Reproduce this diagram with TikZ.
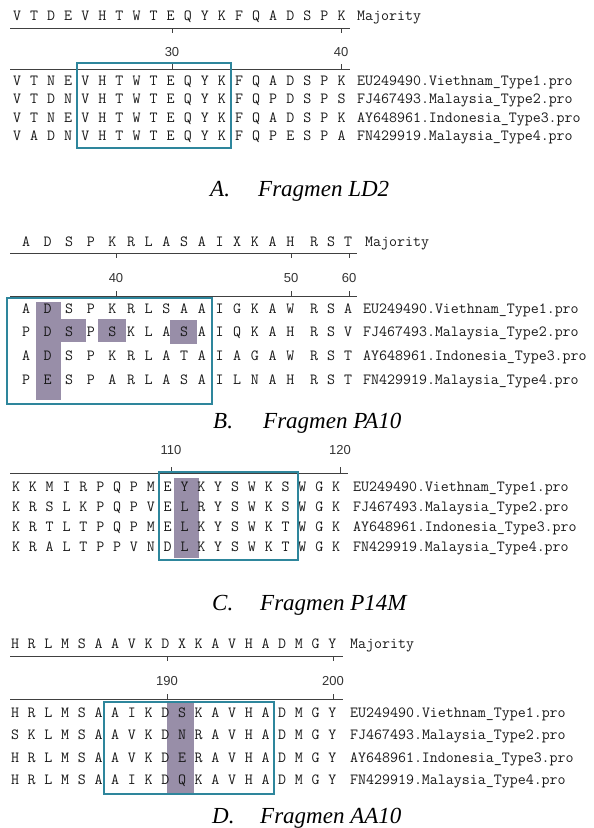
\documentclass[tikz,border=0pt]{standalone}
\usepackage{fontspec}
\newfontfamily\ttlfont{Liberation Serif}
\newfontfamily\numfont{Liberation Sans}

\definecolor{boxteal}{RGB}{46,134,156}
\definecolor{hilite}{RGB}{152,142,168}

\tikzset{
  res/.style={font=\fontsize{15.5}{15.5}\selectfont\ttfamily\addfontfeatures{FakeBold=0.6},
    inner sep=0pt, text height=9pt, text depth=0pt, text=black!90},
  lab/.style={res, anchor=west},
  num/.style={font=\fontsize{13}{13}\selectfont\numfont, inner sep=0pt, text=black!80},
  ruler/.style={line width=1pt, black!75},
  frame/.style={draw=boxteal, line width=2.6pt},
  shade/.style={fill=hilite},
  ttl/.style={font=\fontsize{23}{23}\selectfont\ttlfont\itshape, anchor=base west, inner sep=0pt},
}

% one row of residues: name, first x, step, y, letters
\newcommand\seqrow[5]{%
  \foreach \c [count=\i] in {#5} \node[res] (#1-\i) at ({#2+(\i-1)*#3}, #4) {\c};}

\begin{document}
\begin{tikzpicture}[x=1pt, y=-1pt]
\useasboundingbox (0,0) rectangle (594,828);

% ---- A. Fragmen LD2
\seqrow{am}{17}{17.08}{16}{V,T,D,E,V,H,T,W,T,E,Q,Y,K,F,Q,A,D,S,P,K}
\node[lab] (am-lab) at (357,16) {Majority};
\draw[ruler] (10,28) -- (350,28);
\draw[ruler] (10,69) -- (350,69);
\foreach \x/\n in {172/30, 341/40} {
  \draw[ruler] (\x,28) -- (\x,33);
  \draw[ruler] (\x,69) -- (\x,64);
  \node[num] (a\n) at (\x,52) {\n};
}
\seqrow{a1}{17}{17.08}{81}{V,T,N,E,V,H,T,W,T,E,Q,Y,K,F,Q,A,D,S,P,K}
\seqrow{a2}{17}{17.08}{99}{V,T,D,N,V,H,T,W,T,E,Q,Y,K,F,Q,P,D,S,P,S}
\seqrow{a3}{17}{17.08}{118}{V,T,N,E,V,H,T,W,T,E,Q,Y,K,F,Q,A,D,S,P,K}
\seqrow{a4}{17}{17.08}{136}{V,A,D,N,V,H,T,W,T,E,Q,Y,K,F,Q,P,E,S,P,A}
\node[lab] (a1-lab) at (357,81) {EU249490.Viethnam\_Type1.pro};
\node[lab] (a2-lab) at (357,99) {FJ467493.Malaysia\_Type2.pro};
\node[lab] (a3-lab) at (357,118) {AY648961.Indonesia\_Type3.pro};
\node[lab] (a4-lab) at (357,136) {FN429919.Malaysia\_Type4.pro};
\draw[frame] (77,63) rectangle (231,148);
\node[ttl] (ta-l) at (210,196) {A.};
\node[ttl] (ta) at (258,196) {Fragmen LD2};

% ---- B. Fragmen PA10
\fill[shade] (36,302) rectangle (61,400);
\fill[shade] (61,319) rectangle (86,342);
\fill[shade] (98,319) rectangle (126,342);
\fill[shade] (170,320) rectangle (197,344);
\seqrow{bm1}{26}{21.6}{242}{A,D,S,P,K}
\seqrow{bm2}{131}{17.7}{242}{R,L,A,S,A,I,X,K,A,H}
\seqrow{bm3}{314}{17}{242}{R,S,T}
\node[lab] (bm-lab) at (365,242) {Majority};
\draw[ruler] (10,253) -- (357,253);
\draw[ruler] (10,296) -- (357,296);
\foreach \x/\n in {116/40, 291/50, 349/60} {
  \draw[ruler] (\x,253) -- (\x,258);
  \draw[ruler] (\x,296) -- (\x,291);
  \node[num] (b\n) at (\x,278) {\n};
}
\seqrow{b1a}{26}{21.6}{309}{A,D,S,P,K}
\seqrow{b1b}{131}{17.7}{309}{R,L,S,A,A,I,G,K,A,W}
\seqrow{b1c}{314}{17}{309}{R,S,A}
\seqrow{b2a}{26}{21.6}{332}{P,D,S,P,S}
\seqrow{b2b}{131}{17.7}{332}{K,L,A,S,A,I,Q,K,A,H}
\seqrow{b2c}{314}{17}{332}{R,S,V}
\seqrow{b3a}{26}{21.6}{356}{A,D,S,P,K}
\seqrow{b3b}{131}{17.7}{356}{R,L,A,T,A,I,A,G,A,W}
\seqrow{b3c}{314}{17}{356}{R,S,T}
\seqrow{b4a}{26}{21.6}{380}{P,E,S,P,A}
\seqrow{b4b}{131}{17.7}{380}{R,L,A,S,A,I,L,N,A,H}
\seqrow{b4c}{314}{17}{380}{R,S,T}
\node[lab] (b1-lab) at (363,309) {EU249490.Viethnam\_Type1.pro};
\node[lab] (b2-lab) at (363,332) {FJ467493.Malaysia\_Type2.pro};
\node[lab] (b3-lab) at (363,356) {AY648961.Indonesia\_Type3.pro};
\node[lab] (b4-lab) at (363,380) {FN429919.Malaysia\_Type4.pro};
\draw[frame] (7,298) rectangle (212,404);
\node[ttl] (tb-l) at (213,428) {B.};
\node[ttl] (tb) at (263,428) {Fragmen PA10};

% ---- C. Fragmen P14M
\fill[shade] (174,478) rectangle (199,558);
\draw[ruler] (10,473) -- (348,473);
\foreach \x/\n in {171/110, 340/120} {
  \draw[ruler] (\x,473) -- (\x,467);
  \node[num] (c\n) at (\x,450) {\n};
}
\seqrow{c1}{16}{16.85}{487}{K,K,M,I,R,P,Q,P,M,E,Y,K,Y,S,W,K,S,W,G,K}
\seqrow{c2}{16}{16.85}{507}{K,R,S,L,K,P,Q,P,V,E,L,R,Y,S,W,K,S,W,G,K}
\seqrow{c3}{16}{16.85}{527}{K,R,T,L,T,P,Q,P,M,E,L,K,Y,S,W,K,T,W,G,K}
\seqrow{c4}{16}{16.85}{547}{K,R,A,L,T,P,P,V,N,D,L,K,Y,S,W,K,T,W,G,K}
\node[lab] (c1-lab) at (353,487) {EU249490.Viethnam\_Type1.pro};
\node[lab] (c2-lab) at (353,507) {FJ467493.Malaysia\_Type2.pro};
\node[lab] (c3-lab) at (353,527) {AY648961.Indonesia\_Type3.pro};
\node[lab] (c4-lab) at (353,547) {FN429919.Malaysia\_Type4.pro};
\draw[frame] (159,472) rectangle (298,560);
\node[ttl] (tc-l) at (212,610) {C.};
\node[ttl] (tc) at (260,610) {Fragmen P14M};

% ---- D. Fragmen AA10
\fill[shade] (167,703) rectangle (194,793);
\seqrow{dm}{15}{16.7}{644}{H,R,L,M,S,A,A,V,K,D,X,K,A,V,H,A,D,M,G,Y}
\node[lab] (dm-lab) at (350,644) {Majority};
\draw[ruler] (10,656) -- (343,656);
\draw[ruler] (10,699) -- (343,699);
\foreach \x/\n in {167/190, 333/200} {
  \draw[ruler] (\x,656) -- (\x,661);
  \draw[ruler] (\x,699) -- (\x,694);
  \node[num] (d\n) at (\x,681) {\n};
}
\seqrow{d1}{15}{16.7}{713}{H,R,L,M,S,A,A,I,K,D,S,K,A,V,H,A,D,M,G,Y}
\seqrow{d2}{15}{16.7}{735}{S,K,L,M,S,A,A,V,K,D,N,R,A,V,H,A,D,M,G,Y}
\seqrow{d3}{15}{16.7}{758}{H,R,L,M,S,A,A,V,K,D,E,R,A,V,H,A,D,M,G,Y}
\seqrow{d4}{15}{16.7}{780}{H,R,L,M,S,A,A,I,K,D,Q,K,A,V,H,A,D,M,G,Y}
\node[lab] (d1-lab) at (350,713) {EU249490.Viethnam\_Type1.pro};
\node[lab] (d2-lab) at (350,735) {FJ467493.Malaysia\_Type2.pro};
\node[lab] (d3-lab) at (350,758) {AY648961.Indonesia\_Type3.pro};
\node[lab] (d4-lab) at (350,780) {FN429919.Malaysia\_Type4.pro};
\draw[frame] (104,702) rectangle (274,794);
\node[ttl] (td-l) at (212,823) {D.};
\node[ttl] (td) at (260,823) {Fragmen AA10};
\end{tikzpicture}
\end{document}
